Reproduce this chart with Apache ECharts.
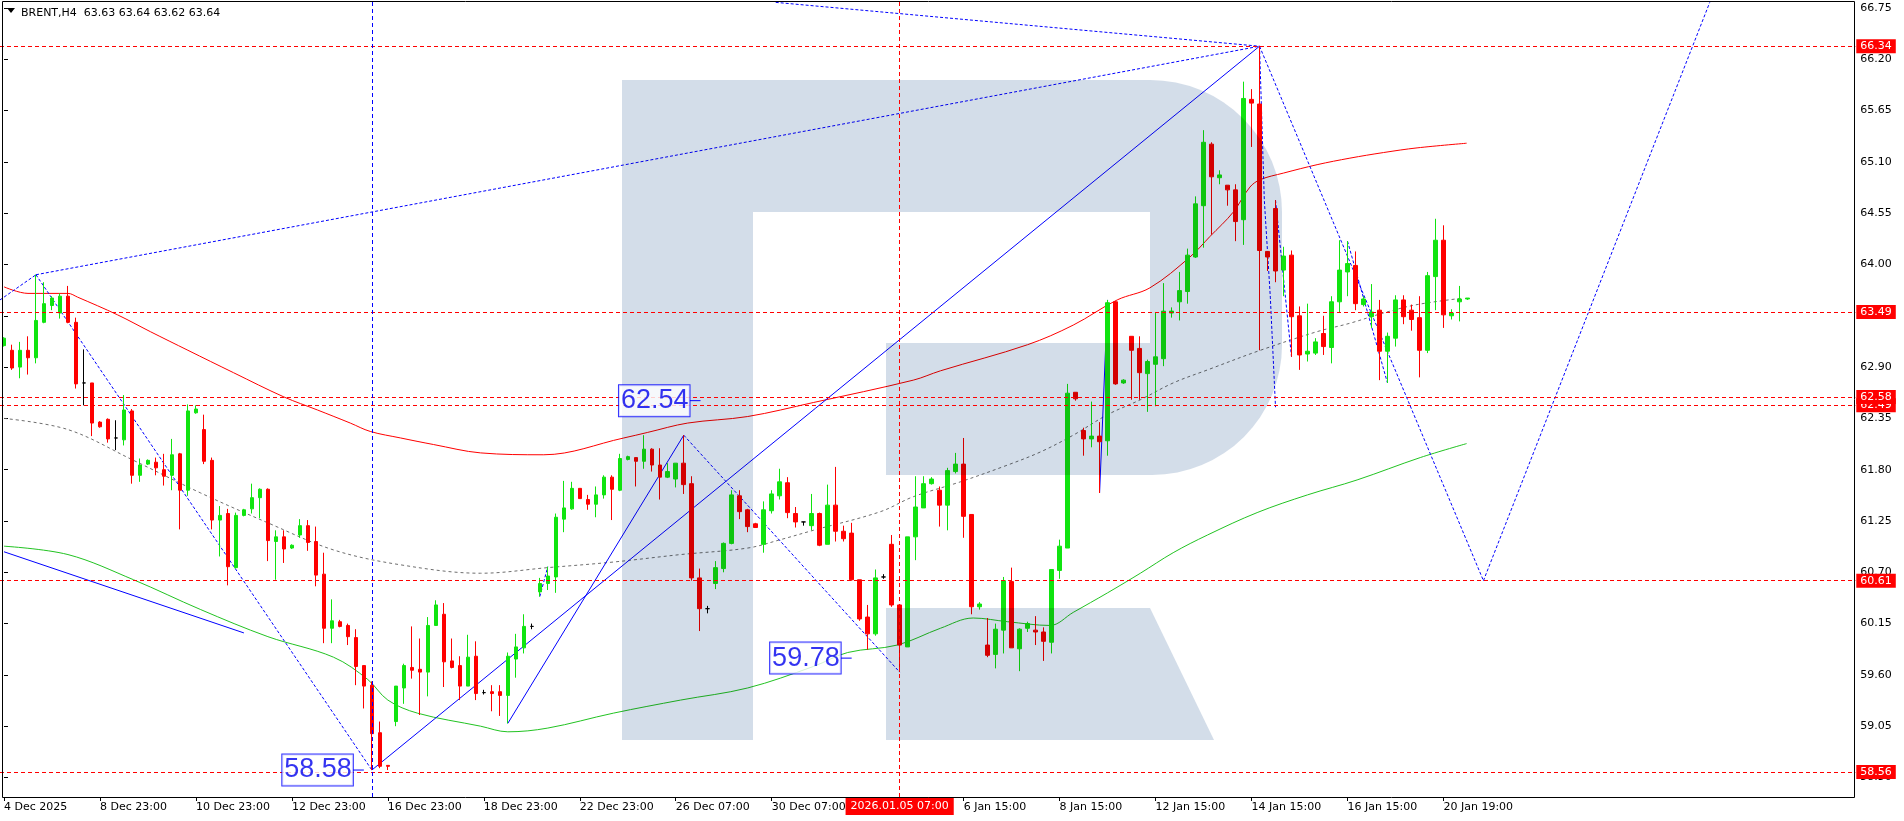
<!DOCTYPE html>
<html><head><meta charset="utf-8">
<script src="https://cdn.jsdelivr.net/npm/echarts@6/dist/echarts.min.js"></script>
<style>html,body{margin:0;padding:0;background:#fff}#c{width:1904px;height:821px}</style>
</head><body><div id="c"></div>
<script>
// ---- data ----
// each bar: [open, high, low, close]
const ohlc = [
[63.13,63.22,63.12,63.21],[63.08,63.14,62.87,62.89],[62.90,63.17,62.78,63.08],[63.08,63.23,62.82,63.00],[63.00,63.89,62.94,63.40],
[63.38,63.81,63.37,63.58],[63.56,63.66,63.51,63.64],[63.48,63.69,63.42,63.66],[63.66,63.77,63.37,63.38],[63.38,63.43,62.67,62.72],
[62.73,63.09,62.49,62.73],[62.73,62.73,62.16,62.30],[62.31,62.32,62.25,62.26],[62.34,62.35,62.09,62.13],[62.14,62.33,62.01,62.14],
[62.12,62.60,62.06,62.44],[62.43,62.45,61.65,61.74],[61.74,61.92,61.67,61.85],[61.86,61.91,61.85,61.90],[61.88,61.93,61.74,61.82],
[61.80,61.97,61.63,61.73],[61.74,62.13,61.58,61.96],[61.97,61.98,61.16,61.58],[61.58,62.50,61.52,62.43],[62.41,62.49,62.40,62.45],
[62.23,62.39,61.86,61.89],[61.90,61.93,61.16,61.26],[61.26,61.41,60.87,61.31],[61.33,61.38,60.56,60.76],[60.75,61.34,60.74,61.31],
[61.31,61.38,61.30,61.37],[61.38,61.65,61.33,61.50],[61.50,61.60,61.28,61.59],[61.59,61.60,60.82,61.04],[61.03,61.15,60.62,61.08],
[61.08,61.15,60.80,60.95],[60.96,61.00,60.95,60.99],[61.10,61.27,61.07,61.20],[61.20,61.26,60.93,61.02],[61.03,61.19,60.55,60.67],
[60.68,60.91,59.94,60.10],[60.10,60.41,59.94,60.18],[60.17,60.19,60.11,60.12],[60.13,60.15,59.92,60.01],[60.00,60.09,59.49,59.69],
[59.70,59.70,59.24,59.48],[59.49,59.53,58.58,58.97],[58.98,59.10,58.60,58.62],[58.63,58.63,58.58,58.62],[59.10,59.48,59.05,59.48],
[59.46,59.72,59.29,59.70],[59.68,60.12,59.56,59.65],[59.66,59.99,59.17,59.63],[59.63,60.22,59.37,60.13],[60.13,60.40,60.13,60.35],
[60.25,60.37,59.47,59.74],[59.75,59.99,59.67,59.68],[59.70,59.80,59.33,59.48],[59.48,60.03,59.48,59.79],[59.80,59.96,59.33,59.40],
[59.41,59.44,59.39,59.41],[59.42,59.49,59.21,59.40],[59.42,59.49,59.16,59.38],[59.38,59.84,59.08,59.80],[59.77,60.04,59.57,59.90],
[59.89,60.25,59.83,60.12],[60.12,60.15,60.09,60.12],[60.49,60.64,60.44,60.58],[60.58,60.76,60.51,60.66],[60.65,61.33,60.48,61.29],
[61.27,61.68,61.13,61.39],[61.38,61.67,61.37,61.60],[61.60,61.60,61.49,61.49],[61.48,61.53,61.37,61.43],[61.43,61.62,61.29,61.53],
[61.53,61.74,61.49,61.72],[61.72,61.74,61.26,61.59],[61.58,61.97,61.57,61.92],[61.91,61.95,61.90,61.94],[61.93,61.93,61.62,61.89],
[61.89,62.17,61.81,62.02],[62.02,62.03,61.78,61.85],[61.85,62.03,61.48,61.72],[61.72,61.87,61.71,61.78],[61.70,61.87,61.61,61.87],
[61.87,62.17,61.54,61.64],[61.65,61.73,60.61,60.64],[60.64,60.74,60.07,60.31],[60.31,60.34,60.26,60.31],[60.58,60.82,60.52,60.75],
[60.74,61.02,60.70,61.01],[61.01,61.58,61.00,61.53],[61.52,61.58,61.27,61.35],[61.37,61.38,61.13,61.19],[61.22,61.23,61.18,61.18],
[61.00,61.46,60.91,61.37],[61.36,61.58,61.33,61.54],[61.52,61.81,61.48,61.67],[61.66,61.72,61.28,61.34],[61.33,61.40,61.18,61.24],
[61.24,61.24,61.20,61.24],[61.20,61.54,61.15,61.33],[61.33,61.34,60.98,60.99],[61.00,61.64,61.00,61.42],[61.42,61.83,61.03,61.14],
[61.14,61.20,61.03,61.06],[61.12,61.23,60.61,60.62],[60.62,60.62,60.18,60.20],[60.22,60.35,59.87,60.04],[60.04,60.73,60.02,60.64],
[60.65,60.68,60.63,60.65],[61.00,61.10,60.33,60.35],[60.35,60.35,59.63,59.92],[59.90,61.08,59.90,61.08],[61.08,61.73,60.83,61.40],
[61.39,61.73,61.39,61.65],[61.65,61.72,61.64,61.70],[61.58,61.62,61.19,61.42],[61.42,61.82,61.15,61.79],[61.78,61.98,61.76,61.86],
[61.86,62.14,61.07,61.30],[61.32,61.32,60.25,60.33],[60.33,60.38,60.30,60.36],[59.92,60.21,59.79,59.81],[59.82,60.15,59.67,60.09],
[60.08,60.65,59.83,60.61],[60.60,60.75,59.89,59.89],[59.88,60.10,59.64,60.09],[60.10,60.17,60.06,60.15],[60.08,60.23,59.92,60.06],
[60.06,60.11,59.75,59.96],[59.95,60.73,59.83,60.73],[60.72,61.05,60.63,60.98],[60.96,62.72,60.96,62.62],[62.63,62.63,62.54,62.56],
[62.22,62.25,61.95,62.13],[62.13,62.53,62.04,62.16],[62.16,62.31,61.55,62.10],[62.11,63.62,61.95,63.59],[63.60,63.61,62.71,62.72],
[62.73,62.77,62.72,62.76],[63.23,63.23,62.55,63.08],[63.10,63.23,62.55,62.84],[62.83,62.98,62.42,62.96],[62.93,63.48,62.48,63.01],
[62.99,63.80,62.91,63.50],[63.48,63.54,63.43,63.50],[63.60,63.92,63.40,63.72],[63.71,64.17,63.58,64.10],[64.08,64.73,64.07,64.65],
[64.63,65.44,64.18,65.31],[65.29,65.31,64.32,64.94],[64.93,65.01,64.86,64.96],[64.85,64.85,64.63,64.80],[64.80,64.86,64.25,64.46],
[64.48,65.96,64.21,65.78],[65.77,65.88,65.26,65.73],[65.72,66.34,63.08,64.15],[64.14,64.14,63.93,64.08],[64.60,64.69,63.81,63.93],
[63.94,64.19,63.66,64.09],[64.10,64.15,63.01,63.44],[63.45,63.55,62.87,63.03],[63.04,63.58,62.96,63.07],[63.05,63.21,63.03,63.17],
[63.26,63.45,63.03,63.12],[63.11,63.66,62.94,63.60],[63.60,64.26,63.48,63.94],[63.92,64.25,63.66,64.01],[63.99,64.14,63.51,63.58],
[63.57,63.66,63.55,63.63],[63.44,63.79,63.32,63.49],[63.51,63.62,62.76,63.07],[63.07,63.27,62.73,63.23],[63.21,63.67,63.12,63.62],
[63.62,63.67,63.36,63.44],[63.51,63.57,63.29,63.41],[63.43,63.66,62.79,63.08],[63.08,63.92,63.05,63.88],[63.87,64.49,63.51,64.26],
[64.26,64.42,63.32,63.46],[63.45,63.52,63.41,63.48],[63.60,63.77,63.39,63.63],[63.63,63.64,63.62,63.64]
];
const totalSlots = 232; // bar slots visible on the time axis (incl. empty future space)

const tickBars   = [0,12,24,36,48,60,72,84,96,120,132,144,156,168,180];
const tickLabels = ['4 Dec 2025','8 Dec 23:00','10 Dec 23:00','12 Dec 23:00','16 Dec 23:00','18 Dec 23:00','22 Dec 23:00','26 Dec 07:00','30 Dec 07:00','6 Jan 15:00','8 Jan 15:00','12 Jan 15:00','14 Jan 15:00','16 Jan 15:00','20 Jan 19:00'];
const yTicks = [58.50,59.05,59.60,60.15,60.70,61.25,61.80,62.35,62.90,63.45,64.00,64.55,65.10,65.65,66.20,66.75];
const yMin = 58.291, yMax = 66.814;

const levels = [62.49, 66.34, 63.49, 62.58, 60.61, 58.56]; // red dashed levels
const lastPrice = 63.64;
const vBlueBar = 46;
const vRedBar = 112;
const vRedLabel = '2026.01.05 07:00';
const titleText = 'BRENT,H4  63.63 63.64 63.62 63.64';

// moving averages: [bar, price]
const maRed = [[0,63.76],[3,63.69],[8,63.69],[9.2,63.65],[14.2,63.46],[18.3,63.28],[23,63.08],[28.7,62.84],[35,62.58],[39.2,62.44],[43.3,62.30],[45.8,62.21],[49.6,62.14],[53.7,62.07],[59.6,61.98],[67.5,61.96],[77.5,62.14],[80.5,62.20],[85.5,62.30],[93,62.37],[101.2,62.52],[113.7,62.76],[117.1,62.86],[128,63.14],[133.7,63.35],[139.2,63.62],[143.3,63.75],[148.3,64.08],[150.8,64.30],[153.7,64.56],[155.8,64.83],[157.1,64.91],[160,64.98],[164.2,65.07],[168.3,65.14],[172.5,65.20],[176.7,65.25],[182.9,65.30]];
const maGreen = [[0,60.98],[8,60.89],[16.2,60.62],[24.6,60.30],[33,60.01],[41.2,59.79],[45.5,59.55],[48,59.33],[51.7,59.19],[59.6,59.05],[63,58.99],[68,59.03],[76.2,59.19],[84.6,59.33],[93,59.46],[101.2,59.69],[105.5,59.84],[111.7,59.92],[117.1,60.10],[121.2,60.21],[125.5,60.17],[130.8,60.13],[133.7,60.27],[138,60.48],[142.1,60.69],[146.2,60.91],[150.5,61.10],[156.7,61.34],[163,61.53],[169.2,61.69],[177.1,61.93],[182.9,62.08]];
const maGray = [[0,62.35],[8,62.23],[16.2,61.90],[24.6,61.55],[33,61.23],[41.2,60.94],[49.6,60.78],[59.6,60.69],[68,60.75],[76.2,60.81],[84.6,60.89],[93,60.96],[97.1,61.05],[101.2,61.15],[109.6,61.35],[113.7,61.51],[119.6,61.67],[125.5,61.85],[129.6,61.99],[133.7,62.17],[138,62.39],[142.1,62.55],[146.2,62.73],[150.5,62.87],[157.1,63.08],[164.2,63.28],[168.3,63.37],[172.5,63.48],[176.7,63.57],[182.5,63.64]];

// drawn trend lines: [bar, price] points
const trendSolid = [
  [[0,60.92],[30,60.05]],
  [[46,58.58],[157,66.34]],
  [[63,59.08],[85,62.17]],
  [[137,61.55],[138,63.62]]
];
const trendDotted = [
  [[-0.5,63.62],[4,63.89]],
  [[4,63.89],[157,66.34]],
  [[96.5,66.81],[157,66.34]],
  [[4,63.89],[46,58.58]],
  [[85,62.17],[112,59.63]],
  [[67,60.44],[68,60.76]],
  [[157,66.34],[157.6,64.69],[158.35,63.65],[159,62.47]],
  [[159,64.69],[161,63.01]],
  [[157,66.34],[185,60.61]],
  [[185,60.61],[213.3,66.81]],
  [[168,64.25],[173,62.73]]
];
// boxed price labels: [bar of pointer end, price]
const priceBoxes = [[87.1,62.54],[106,59.78],[45,58.58]];

// ---- chart ----
const chart = echarts.init(document.getElementById('c'), null, {renderer:'canvas'});
const FONT = 'DejaVu Sans';
const UP = '#10e410', DOWN = '#ff0000';
const cats = Array.from({length: totalSlots}, (_, i) => String(i));
const candleData = ohlc.map(r => [r[0], r[3], r[2], r[1]]);

const markData = [];
levels.forEach(v => markData.push({
  yAxis: v,
  lineStyle: {color: '#ff0000', type: [4,3], width: 1},
  label: {show: true, position: 'end', distance: 1, formatter: v.toFixed(2),
    backgroundColor: '#ff0000', color: '#fff', fontFamily: FONT, fontSize: 11,
    padding: [1,4,1,4], lineHeight: 12}
}));
markData.push({
  yAxis: lastPrice,
  lineStyle: {opacity: 0},
  label: {show: true, position: 'end', distance: 1, formatter: lastPrice.toFixed(2),
    backgroundColor: '#000', color: '#fff', fontFamily: FONT, fontSize: 11,
    padding: [1,4,1,4], lineHeight: 12}
});
markData.push({xAxis: vBlueBar, lineStyle: {color: '#0000ff', type: [4,3], width: 1}, label: {show: false}});
markData.push({xAxis: vRedBar, lineStyle: {color: '#ff0000', type: [4,3], width: 1},
  label: {show: true, position: 'start', distance: 0, formatter: vRedLabel,
    backgroundColor: '#ff0000', color: '#fff', fontFamily: FONT, fontSize: 11,
    padding: [3,5,2,5], lineHeight: 13}});

const series = [{
  type: 'candlestick', xAxisIndex: 0, yAxisIndex: 0, data: candleData,
  barWidth: 4, z: 2,
  itemStyle: {color: UP, color0: DOWN, borderColor: UP, borderColor0: DOWN, borderColorDoji: '#000', borderWidth: 1},
  markLine: {silent: true, symbol: ['none','none'], animation: false, data: markData}
}];
function lineSeries(data, color, dash, z, smooth) {
  return {type: 'line', xAxisIndex: 1, yAxisIndex: 0, data: data, symbol: 'none', silent: true, z: z || 2,
    smooth: smooth || false,
    lineStyle: {color: color, width: 1, type: dash || 'solid'}, animation: false};
}
series.push(lineSeries(maRed, '#ff0000', 'solid', 2, 0.35));
series.push(lineSeries(maGreen, '#22c322', 'solid', 2, 0.35));
series.push(lineSeries(maGray, '#6e6e6e', [3,3], 2, 0.35));
trendSolid.forEach(p => series.push(lineSeries(p, '#0000ff')));
trendDotted.forEach(p => series.push(lineSeries(p, '#0000ff', [3,2])));
priceBoxes.forEach(b => series.push(lineSeries([[b[0]-1.35, b[1]], [b[0], b[1]]], '#0000ff', 'solid', 5)));
series.push({
  type: 'scatter', xAxisIndex: 1, yAxisIndex: 0, data: priceBoxes, symbolSize: 0, z: 6, silent: true,
  label: {show: true, position: 'left', distance: 11, formatter: p => p.value[1].toFixed(2),
    backgroundColor: '#fff', borderColor: '#0000ff', borderWidth: 1, color: '#0000ee',
    fontFamily: 'Liberation Sans', fontSize: 27, lineHeight: 28, padding: [2,1,1,2]}
});

const wm = '#d3dde9';
const wmStyle = {fill: wm, blend: 'multiply'};
chart.setOption({
  animation: false,
  backgroundColor: '#fff',
  grid: {left: -0.7, top: 2, width: 1856, height: 795, containLabel: false},
  xAxis: [{
    type: 'category', data: cats, boundaryGap: true,
    axisLine: {show: false},
    axisTick: {show: true, alignWithLabel: true, length: 4, interval: (i) => tickBars.indexOf(i) >= 0, lineStyle: {color: '#000'}},
    axisLabel: {interval: (i) => tickBars.indexOf(i) >= 0, formatter: (v, i) => { const k = tickBars.indexOf(i); return k >= 0 ? tickLabels[k] : ''; },
      align: 'left', margin: 5, color: '#000', fontFamily: FONT, fontSize: 11},
    splitLine: {show: false}
  }, {
    type: 'value', min: -0.5, max: totalSlots - 0.5, show: false
  }],
  yAxis: [{
    type: 'value', position: 'right', min: yMin, max: yMax, offset: -1,
    axisLine: {show: false}, splitLine: {show: false},
    axisTick: {show: true, length: 4, customValues: yTicks, lineStyle: {color: '#000'}},
    axisLabel: {customValues: yTicks, formatter: v => v.toFixed(2), margin: 6, color: '#000', fontFamily: FONT, fontSize: 11}
  }],
  series: series,
  graphic: [
    {type: 'group', z: 4, children: [
      {type: 'rect', shape: {x: 622, y: 80, width: 131, height: 660}, style: wmStyle, z: 4},
      {type: 'rect', shape: {x: 753, y: 80, width: 397, height: 132}, style: wmStyle, z: 4},
      {type: 'rect', shape: {x: 886, y: 343, width: 264, height: 132}, style: wmStyle, z: 4},
      {type: 'rect', shape: {x: 1150, y: 80, width: 132, height: 395, r: [0,132,130,0]}, style: wmStyle, z: 4},
      {type: 'polygon', shape: {points: [[886,608],[1150,608],[1214,740],[886,740]]}, style: wmStyle, z: 4}
    ]},
    {type: 'rect', shape: {x: 2.5, y: 1.5, width: 1852, height: 796}, style: {fill: null, stroke: '#000', lineWidth: 1}, z: 10, silent: true},
    {type: 'polygon', shape: {points: [[7,8],[15,8],[11,13]]}, style: {fill: '#000'}, z: 10},
    {type: 'text', x: 21, y: 13, style: {text: titleText, fill: '#000', font: '11px "DejaVu Sans"', verticalAlign: 'middle'}, z: 10}
  ]
});
</script></body></html>
